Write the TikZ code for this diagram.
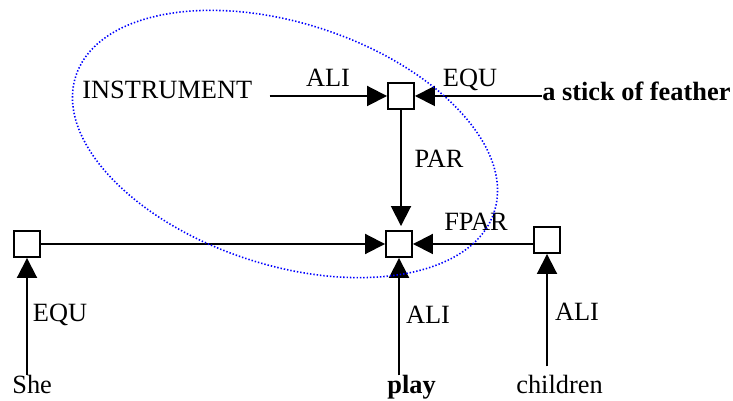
\documentclass[tikz,border=0pt]{standalone}
\usepackage{fontspec}
\setmainfont{Liberation Serif}
\usetikzlibrary{arrows.meta}
\tikzset{
  caja/.style={draw, line width=1.1pt, minimum size=0.52cm, inner sep=0pt},
  flecha/.style={line width=1.1pt, -{Triangle[length=0.4cm,width=0.4cm]}},
  texto/.style={inner sep=0pt, anchor=base west},
  etiq/.style={inner sep=0pt},
}
\begin{document}
\begin{tikzpicture}[x=0.02cm, y=-0.02cm, font=\fontsize{15}{18}\selectfont]
        \useasboundingbox (0,0) rectangle (733,401);

        % cajas
        \node[caja] (arriba) at (401,96) {};
        \node[caja] (centro) at (399,244) {};
        \node[caja] (izq) at (27,244) {};
        \node[caja] (der) at (547,240) {};

        % palabras
        \node[texto] (instr) at (82,99) {INSTRUMENT};
        \node[texto] (palo) at (542,101) {\textbf{a stick of feather}};
        \node[texto] (she) at (12,394) {She};
        \node[texto] (play) at (387,394) {\textbf{play}};
        \node[texto] (children) at (516,394) {children};

        % relaciones
        \node[etiq] (aliA) at (328,78) {ALI};
        \node[etiq] (equA) at (470,80) {EQU};
        \node[etiq] (par) at (439,159) {PAR};
        \node[etiq] (fpar) at (476,222) {FPAR};
        \node[etiq] (equB) at (60,315) {EQU};
        \node[etiq] (aliB) at (428,315) {ALI};
        \node[etiq] (aliC) at (577,312) {ALI};

        \draw[flecha, shorten <=0.34cm] (instr.east |- arriba) -- (arriba.west);
        \draw[flecha] (palo.west |- arriba) -- (arriba.east);
        \draw[flecha, shorten >=0.08cm] (arriba.south) -- (arriba.south |- centro.north);
        \draw[flecha] (izq.east) -- (centro.west);
        \draw[flecha] (der.west |- centro) -- (centro.east);
        \draw[flecha] (she.north -| izq) -- (izq.south);
        \draw[flecha] (play.north -| centro) -- (centro.south);
        \draw[flecha, shorten <=0.18cm] (children.north -| der) -- (der.south);

        % grupo (elipse punteada)
        \coordinate (ctr) at (285,144);
        \draw[blue, line width=0.9pt, dash pattern=on 0.8pt off 1.1pt,
              rotate around={-18:(ctr)}] (ctr) ellipse [x radius=4.4cm, y radius=2.42cm];
\end{tikzpicture}
\end{document}
